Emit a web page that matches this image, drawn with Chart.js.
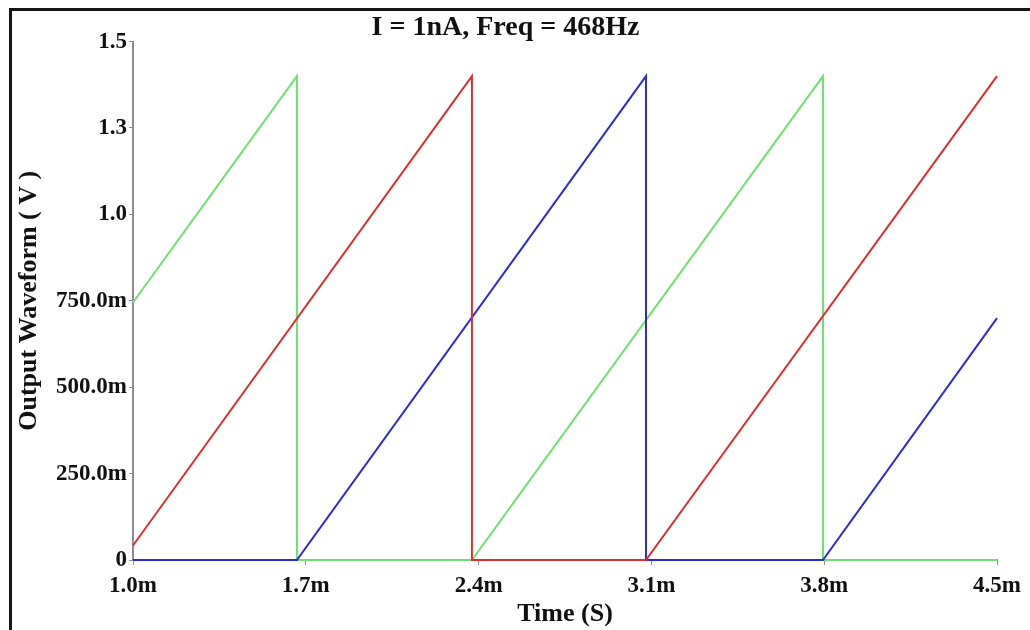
<!DOCTYPE html>
<html>
<head>
<meta charset="utf-8">
<script src="https://cdn.jsdelivr.net/npm/chart.js@4/dist/chart.umd.min.js"></script>
<style>
  html, body { margin: 0; padding: 0; background: #fff; }
  #wrap { position: relative; width: 1030px; height: 630px; overflow: hidden; }
  #frame {
    position: absolute; left: 9px; top: 8px; width: 1030px; height: 619px;
    border-top: 3px solid #161616; border-left: 3px solid #161616;
    border-bottom: 2px solid #d8d8d8; pointer-events: none;
  }
  canvas { position: absolute; left: 0; top: 0; }
</style>
</head>
<body>
<div id="wrap">
  <canvas id="grafico" width="1030" height="630"></canvas>
  <div id="frame"></div>
</div>
<script>
// tempos em ms, tensões em V
const greenTime = [1.0, 1.664, 1.664, 2.373, 3.795, 3.795, 4.5];
const greenVolt = [0.745, 1.40, 0, 0, 1.40, 0, 0];

const redTime = [1.0, 2.373, 2.373, 3.078, 4.5];
const redVolt = [0.042, 1.40, 0, 0, 1.40];

const blueTime = [1.0, 1.664, 3.078, 3.078, 3.795, 4.5];
const blueVolt = [0, 0, 1.40, 0, 0, 0.70];

const xTickValues = [1.0, 1.7, 2.4, 3.1, 3.8, 4.5];
const xTickLabels = ['1.0m', '1.7m', '2.4m', '3.1m', '3.8m', '4.5m'];
const yTickValues = [0, 0.25, 0.5, 0.75, 1.0, 1.25, 1.5];
const yTickLabels = ['0', '250.0m', '500.0m', '750.0m', '1.0', '1.3', '1.5'];

const serif = "'Liberation Serif', 'Times New Roman', serif";

function toPoints(xs, ys) {
  return xs.map((x, i) => ({ x: x, y: ys[i] }));
}

function serie(xs, ys, cor) {
  return {
    data: toPoints(xs, ys),
    borderColor: cor,
    borderWidth: 2,
    pointRadius: 0,
    showLine: true,
    tension: 0,
    clip: 4
  };
}

const ctx = document.getElementById('grafico').getContext('2d');

new Chart(ctx, {
  type: 'scatter',
  data: {
    datasets: [
      serie(redTime, redVolt, '#dc2e2e'),
      serie(blueTime, blueVolt, '#2b2bd2'),
      serie(greenTime, greenVolt, '#6fe06f')
    ]
  },
  options: {
    responsive: false,
    animation: false,
    layout: { padding: { left: 14, right: 33, top: 0, bottom: 0 } },
    plugins: {
      legend: { display: false },
      tooltip: { enabled: false },
      title: {
        display: true,
        text: 'I = 1nA, Freq = 468Hz',
        color: '#111',
        font: { family: serif, size: 28, weight: 'bold' },
        padding: { top: 11, bottom: -3 }
      }
    },
    scales: {
      x: {
        type: 'linear',
        min: 1.0,
        max: 4.5,
        afterBuildTicks: scale => { scale.ticks = xTickValues.map(v => ({ value: v })); },
        afterFit: scale => { scale.height = 70; },
        ticks: {
          callback: (v, i) => xTickLabels[i],
          color: '#111',
          font: { family: serif, size: 23, weight: 'bold' },
          padding: 7,
          maxRotation: 0
        },
        grid: { drawOnChartArea: false, drawTicks: true, tickLength: 5, color: '#8c8c9c' },
        border: { color: '#8c8c9c', width: 2 },
        title: {
          display: true,
          text: 'Time (S)',
          color: '#111',
          font: { family: serif, size: 26, weight: 'bold' },
          padding: { top: 0, bottom: 0 }
        }
      },
      y: {
        min: 0,
        max: 1.5,
        afterBuildTicks: scale => { scale.ticks = yTickValues.map(v => ({ value: v })); },
        afterFit: scale => { scale.width = 119; },
        ticks: {
          callback: (v, i) => yTickLabels[i],
          color: '#111',
          font: { family: serif, size: 23, weight: 'bold' },
          padding: 2
        },
        grid: { drawOnChartArea: false, drawTicks: true, tickLength: 4, color: '#8c8c9c' },
        border: { color: '#8c8c9c', width: 2 },
        title: {
          display: true,
          text: 'Output Waveform ( V )',
          color: '#111',
          font: { family: serif, size: 26, weight: 'bold' },
          padding: { top: 0, bottom: 0 }
        }
      }
    }
  }
});
</script>
</body>
</html>
